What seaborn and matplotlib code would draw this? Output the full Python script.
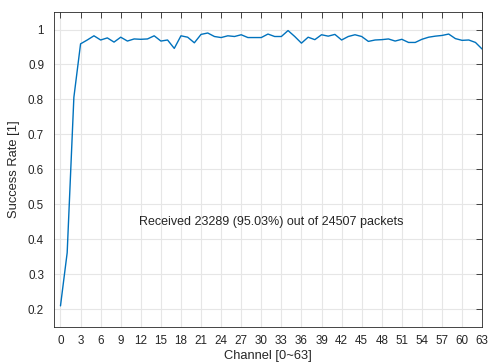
import matplotlib
matplotlib.use("Agg")
import matplotlib.pyplot as plt
import numpy as np
import pandas as pd
import seaborn as sns

# success rate per channel
channels = list(range(64))
success = [0.21, 0.362, 0.806, 0.959, 0.970, 0.982, 0.970, 0.976, 0.964, 0.978,
           0.967, 0.973, 0.972, 0.973, 0.982, 0.967, 0.970, 0.946, 0.982, 0.978,
           0.962, 0.986, 0.990, 0.980, 0.977, 0.982, 0.980, 0.985, 0.977, 0.977,
           0.977, 0.987, 0.980, 0.980, 0.997, 0.980, 0.961, 0.978, 0.971, 0.985,
           0.981, 0.986, 0.970, 0.980, 0.985, 0.980, 0.966, 0.970, 0.971, 0.973,
           0.967, 0.972, 0.963, 0.963, 0.972, 0.978, 0.981, 0.983, 0.987, 0.974,
           0.969, 0.970, 0.963, 0.944]
xticks = list(range(0, 64, 3))
yticks = [0.2, 0.3, 0.4, 0.5, 0.6, 0.7, 0.8, 0.9, 1.0]
ytick_labels = ["0.2", "0.3", "0.4", "0.5", "0.6", "0.7", "0.8", "0.9", "1"]
note = "Received 23289 (95.03%) out of 24507 packets"

df = pd.DataFrame({"channel": channels, "rate": success})

sns.set_style("whitegrid")
plt.rcParams["font.family"] = ["Liberation Sans", "DejaVu Sans"]

fig = plt.figure(figsize=(4.89, 3.64), dpi=100)
ax = fig.add_axes([0.110, 0.102, 0.876, 0.865])

sns.lineplot(data=df, x="channel", y="rate", color="#0072BD", linewidth=1.0, ax=ax)

ax.set_xlim(-1, 63)
ax.set_ylim(0.15, 1.05)
ax.set_xticks(xticks)
ax.set_yticks(yticks)
ax.set_yticklabels(ytick_labels)
ax.set_xlabel("Channel [0~63]", fontsize=9.3, color="#262626", labelpad=2)
ax.set_ylabel("Success Rate [1]", fontsize=9.3, color="#262626", labelpad=6)

ax.grid(True, color="#e6e6e6", linewidth=0.8)
for s in ax.spines.values():
    s.set_visible(True)
    s.set_color("#262626")
    s.set_linewidth(0.6)
ax.tick_params(axis="both", direction="in", length=4, width=0.6, colors="#262626",
               labelsize=8.4, top=True, right=True, pad=6)
ax.tick_params(axis="y", pad=7)

ax.text(31.5, 0.45, note, ha="center", va="center", fontsize=9, color="#262626")

fig.savefig("out.png", dpi=100)
